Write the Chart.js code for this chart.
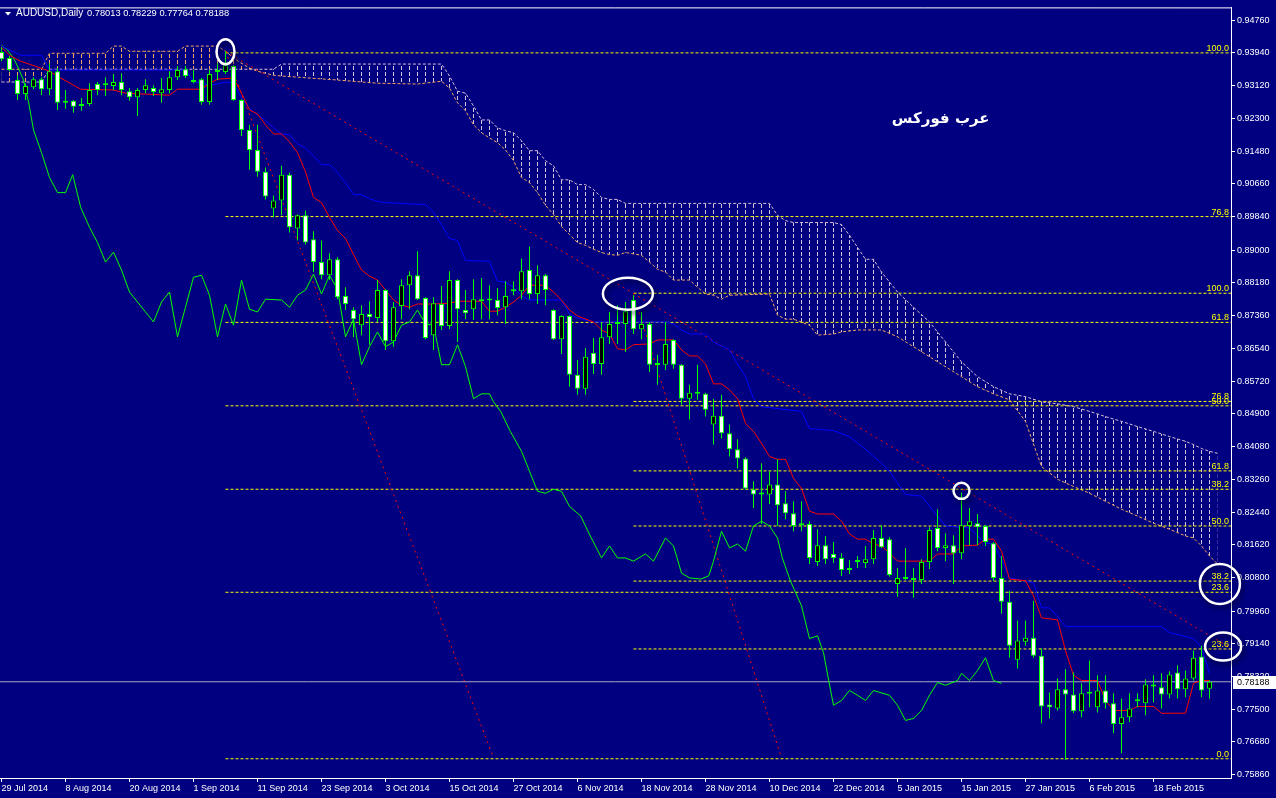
<!DOCTYPE html>
<html>
<head>
<meta charset="utf-8">
<title>AUDUSD Daily</title>
<script src="https://cdn.jsdelivr.net/npm/chart.js@4.4.1/dist/chart.umd.min.js"></script>
<style>
  html, body { margin: 0; padding: 0; background: #000080; overflow: hidden; }
  canvas { display: block; }
</style>
</head>
<body>
<canvas id="chart" width="1276" height="798"></canvas>
<script>
// x axis labels (bar index -> date)
const dateLabels = ['29 Jul 2014', '8 Aug 2014', '20 Aug 2014', '1 Sep 2014', '11 Sep 2014', '23 Sep 2014',
  '3 Oct 2014', '15 Oct 2014', '27 Oct 2014', '6 Nov 2014', '18 Nov 2014', '28 Nov 2014', '10 Dec 2014',
  '22 Dec 2014', '5 Jan 2015', '15 Jan 2015', '27 Jan 2015', '6 Feb 2015', '18 Feb 2015'];
const dateTicks = [0, 8, 16, 24, 32, 40, 48, 56, 64, 72, 80, 88, 96, 104, 112, 120, 128, 136, 144];

// price scale labels
const yTicks = [0.94760, 0.93940, 0.93120, 0.92300, 0.91480, 0.90660, 0.89840, 0.89000, 0.88180, 0.87360,
  0.86540, 0.85720, 0.84900, 0.84080, 0.83260, 0.82440, 0.81620, 0.80800, 0.79960, 0.79140, 0.78320,
  0.77500, 0.76680, 0.75860];

// daily candles
const opens = [0.9396,0.9381,0.9326,0.9291,0.9308,0.9328,0.9303,0.9348,0.9274,0.9274,
  0.9266,0.9266,0.9316,0.9318,0.9311,0.9321,0.9298,0.9283,0.9301,0.9306,
  0.9293,0.9301,0.9333,0.9353,0.9326,0.9328,0.9271,0.9346,0.9346,0.9361,
  0.9276,0.9201,0.9151,0.9096,0.9004,0.9024,0.9089,0.8954,0.8987,0.8927,
  0.8870,0.8837,0.8877,0.8785,0.8750,0.8712,0.8740,0.8730,0.8800,0.8672,
  0.8760,0.8812,0.8837,0.8780,0.8687,0.8765,0.8710,0.8825,0.8750,0.8752,
  0.8777,0.8776,0.8775,0.8757,0.8798,0.8797,0.8850,0.8790,0.8837,0.8750,
  0.8677,0.8735,0.8588,0.8553,0.8643,0.8615,0.8682,0.8716,0.8715,0.8775,
  0.8702,0.8715,0.8613,0.8613,0.8675,0.8613,0.8528,0.8541,0.8540,0.8463,
  0.8485,0.8441,0.8401,0.8378,0.8301,0.8289,0.8288,0.8313,0.8266,0.8241,
  0.8212,0.8214,0.8119,0.8161,0.8139,0.8129,0.8104,0.8120,0.8116,0.8126,
  0.8179,0.8176,0.8064,0.8077,0.8079,0.8074,0.8119,0.8204,0.8154,0.8161,
  0.8141,0.8209,0.8216,0.8209,0.8166,0.8079,0.8019,0.7874,0.7919,0.7929,
  0.7884,0.7762,0.7752,0.7800,0.7787,0.7745,0.7790,0.7755,0.7797,0.7765,
  0.7713,0.7730,0.7770,0.7765,0.7812,0.7805,0.7787,0.7842,0.7800,0.7827,
  0.7882,0.78013];
const highs = [0.9408,0.9386,0.9338,0.9318,0.9333,0.9333,0.9368,0.9356,0.9301,0.9276,
  0.9281,0.9318,0.9321,0.9333,0.9341,0.9343,0.9306,0.9306,0.9328,0.9313,
  0.9331,0.9348,0.9361,0.9361,0.9351,0.9331,0.9351,0.9368,0.9398,0.9363,
  0.9278,0.9214,0.9214,0.9107,0.9037,0.9111,0.9094,0.8989,0.8999,0.8947,
  0.8924,0.8892,0.8882,0.8807,0.8757,0.8762,0.8772,0.8825,0.8802,0.8770,
  0.8827,0.8847,0.8897,0.8782,0.8782,0.8810,0.8847,0.8827,0.8800,0.8827,
  0.8830,0.8812,0.8805,0.8822,0.8822,0.8879,0.8909,0.8862,0.8840,0.8752,
  0.8737,0.8737,0.8625,0.8655,0.8680,0.8720,0.8745,0.8762,0.8770,0.8787,
  0.8745,0.8720,0.8638,0.8720,0.8677,0.8615,0.8563,0.8613,0.8543,0.8528,
  0.8538,0.8463,0.8426,0.8381,0.8321,0.8366,0.8346,0.8376,0.8296,0.8271,
  0.8271,0.8221,0.8201,0.8184,0.8169,0.8141,0.8124,0.8134,0.8159,0.8199,
  0.8211,0.8181,0.8104,0.8154,0.8104,0.8126,0.8206,0.8251,0.8191,0.8186,
  0.8293,0.8254,0.8239,0.8211,0.8169,0.8134,0.8047,0.7972,0.7972,0.8022,
  0.7902,0.7792,0.7827,0.7850,0.7842,0.7815,0.7872,0.7835,0.7835,0.7790,
  0.7777,0.7790,0.7790,0.7825,0.7835,0.7840,0.7845,0.7860,0.7847,0.7897,
  0.7909,0.78229];
const lows = [0.9373,0.9348,0.9276,0.9276,0.9303,0.9288,0.9288,0.9251,0.9254,0.9244,
  0.9249,0.9261,0.9288,0.9286,0.9301,0.9288,0.9274,0.9236,0.9293,0.9286,
  0.9269,0.9293,0.9326,0.9331,0.9318,0.9264,0.9264,0.9326,0.9341,0.9274,
  0.9186,0.9101,0.9084,0.9027,0.8982,0.8987,0.8944,0.8924,0.8914,0.8845,
  0.8827,0.8825,0.8777,0.8750,0.8682,0.8687,0.8663,0.8720,0.8650,0.8658,
  0.8727,0.8752,0.8775,0.8677,0.8650,0.8700,0.8702,0.8670,0.8727,0.8725,
  0.8727,0.8727,0.8737,0.8715,0.8787,0.8777,0.8777,0.8765,0.8762,0.8675,
  0.8640,0.8558,0.8538,0.8538,0.8590,0.8588,0.8665,0.8665,0.8645,0.8690,
  0.8677,0.8595,0.8563,0.8600,0.8603,0.8513,0.8476,0.8525,0.8483,0.8413,
  0.8428,0.8383,0.8353,0.8301,0.8254,0.8214,0.8264,0.8209,0.8226,0.8196,
  0.8196,0.8114,0.8109,0.8114,0.8116,0.8084,0.8089,0.8104,0.8104,0.8114,
  0.8154,0.8082,0.8032,0.8074,0.8029,0.8064,0.8101,0.8146,0.8121,0.8064,
  0.8126,0.8161,0.8161,0.8159,0.8072,0.7989,0.7879,0.7852,0.7909,0.7879,
  0.7715,0.7727,0.7747,0.7623,0.7740,0.7730,0.7755,0.7742,0.7752,0.7690,
  0.7640,0.7718,0.7755,0.7735,0.7767,0.7752,0.7777,0.7777,0.7780,0.7822,
  0.7780,0.77764];
const closes = [0.9378,0.9351,0.9291,0.9311,0.9328,0.9303,0.9348,0.9269,0.9269,0.9259,
  0.9261,0.9301,0.9301,0.9313,0.9321,0.9301,0.9283,0.9301,0.9313,0.9296,
  0.9303,0.9333,0.9351,0.9336,0.9321,0.9271,0.9341,0.9348,0.9363,0.9276,
  0.9201,0.9151,0.9096,0.9034,0.9024,0.9089,0.8957,0.8987,0.8919,0.8870,
  0.8837,0.8877,0.8782,0.8765,0.8727,0.8740,0.8732,0.8800,0.8672,0.8757,
  0.8812,0.8837,0.8777,0.8680,0.8767,0.8710,0.8825,0.8752,0.8742,0.8777,
  0.8772,0.8774,0.8755,0.8785,0.8797,0.8847,0.8790,0.8837,0.8800,0.8677,
  0.8735,0.8588,0.8553,0.8633,0.8615,0.8682,0.8715,0.8715,0.8747,0.8702,
  0.8715,0.8613,0.8612,0.8665,0.8613,0.8528,0.8543,0.8540,0.8500,0.8485,
  0.8441,0.8401,0.8378,0.8303,0.8288,0.8288,0.8313,0.8261,0.8241,0.8209,
  0.8211,0.8129,0.8161,0.8126,0.8129,0.8099,0.8099,0.8119,0.8126,0.8179,
  0.8156,0.8086,0.8079,0.8076,0.8074,0.8119,0.8199,0.8154,0.8161,0.8141,
  0.8211,0.8221,0.8206,0.8169,0.8079,0.8019,0.7909,0.7922,0.7929,0.7884,
  0.7757,0.7755,0.7800,0.7787,0.7745,0.7790,0.7789,0.7797,0.7765,0.7713,
  0.7730,0.7752,0.7771,0.7812,0.7807,0.7787,0.7837,0.7800,0.7827,0.7879,
  0.7797,0.78188];

// Ichimoku lines as [bar, price]
const tenkan = [[0,0.9408],[1,0.9388],[2.4,0.9373],[4.9,0.9356],[6,0.9348],[7.4,0.9331],[9.9,0.9303],[14,0.9301],
  [15.5,0.9293],[21,0.9288],[22,0.9303],[25,0.9303],[26,0.9318],[27,0.9328],[29,0.9331],[30,0.9293],[31,0.9251],
  [32,0.9241],[33,0.9214],[34,0.9191],[35,0.9191],[36,0.9171],[37,0.9144],[38,0.9096],[39,0.9032],[40,0.9019],
  [41,0.8982],[42,0.8949],[43,0.8929],[44,0.8889],[45,0.8850],[46,0.8835],[47,0.8825],[48,0.8800],[49,0.8775],
  [50,0.8762],[51,0.8757],[52,0.8765],[54,0.8765],[56,0.8767],[57,0.8772],[60,0.8772],[61,0.8747],[62,0.8747],
  [63,0.8757],[64,0.8770],[65,0.8787],[66,0.8812],[68,0.8812],[69,0.8795],[70,0.8775],[71,0.8750],[72,0.8735],
  [74,0.8720],[75,0.8700],[76,0.8690],[77,0.8653],[78,0.8650],[79,0.8663],[81,0.8665],[82,0.8675],[84,0.8675],
  [85,0.8650],[86,0.8635],[87,0.8635],[88,0.8615],[89,0.8565],[90,0.8565],[91,0.8550],[92,0.8528],[93,0.8466],
  [94,0.8446],[95,0.8416],[96,0.8383],[97,0.8376],[98,0.8376],[99,0.8328],[100,0.8303],[101,0.8246],[102,0.8239],
  [104,0.8239],[105,0.8221],[106,0.8189],[107,0.8176],[108,0.8176],[109,0.8164],[110,0.8159],[111,0.8141],
  [112,0.8121],[116,0.8121],[117,0.8139],[119,0.8139],[120,0.8159],[122,0.8161],[123,0.8176],[124,0.8176],
  [125,0.8146],[126,0.8076],[128,0.8072],[129,0.8034],[130,0.7979],[132,0.7974],[133,0.7897],[134,0.7835],
  [135,0.7822],[137,0.7822],[138,0.7772],[139,0.7747],[141,0.7747],[142,0.7757],[144,0.7757],[145,0.7740],
  [148,0.7740],[149,0.7815],[150,0.7822],[151,0.7822]];
const kijun = [[0,0.9411],[2.4,0.9388],[5,0.9388],[6,0.9351],[23,0.9351],[24,0.9323],[26,0.9313],[27,0.9316],
  [28,0.9321],[29,0.9318],[30,0.9281],[31,0.9254],[32,0.9239],[33,0.9224],[34,0.9206],[35,0.9191],[36,0.9189],
  [37,0.9166],[38,0.9156],[39,0.9136],[40,0.9114],[41,0.9114],[42,0.9094],[43,0.9069],[44,0.9039],[45,0.9039],
  [46,0.9029],[47,0.9022],[48,0.9019],[53,0.9014],[54,0.8994],[55,0.8964],[56,0.8929],[57,0.8924],[58,0.8874],
  [61,0.8872],[62,0.8822],[63,0.8820],[64,0.8807],[65,0.8785],[66,0.8775],[70,0.8775],[71,0.8740],[72,0.8730],
  [74,0.8720],[83,0.8720],[84,0.8715],[85,0.8700],[86,0.8690],[88,0.8690],[89,0.8670],[91,0.8650],[92,0.8615],
  [93,0.8583],[94,0.8528],[95,0.8508],[100,0.8496],[101,0.8453],[104,0.8448],[106,0.8433],[108,0.8401],
  [110,0.8366],[111,0.8346],[112,0.8316],[113,0.8288],[115,0.8284],[116,0.8259],[117,0.8234],[118,0.8209],
  [121,0.8204],[122,0.8184],[123,0.8166],[124,0.8164],[125,0.8126],[126,0.8079],[129,0.8067],[130,0.8004],
  [131,0.8004],[132,0.7982],[133,0.7957],[145,0.7957],[146,0.7942],[149,0.7927],[150,0.7904],[151,0.7840]];
const chikou = [[0,0.9413],[0.75,0.9401],[1.5,0.9381],[2.1,0.9356],[2.75,0.9326],[3.4,0.9269],[4,0.9201],
  [5,0.9144],[6,0.9082],[7,0.9044],[8,0.9044],[8.9,0.9089],[9.9,0.9007],[11,0.8957],[12,0.8919],[13,0.8870],
  [14,0.8895],[15,0.8850],[16,0.8795],[17,0.8770],[18,0.8745],[19,0.8720],[20,0.8770],[21,0.8795],[22,0.8683],
  [23,0.8757],[24,0.8832],[25,0.8837],[26,0.8787],[27,0.8683],[28,0.8765],[29,0.8712],[30,0.8825],[31,0.8752],
  [32,0.8745],[33,0.8777],[35,0.8775],[36,0.8757],[37,0.8787],[38,0.8800],[39,0.8840],[40,0.8790],[41,0.8837],
  [42,0.8802],[43,0.8683],[44,0.8727],[45,0.8613],[46,0.8658],[47,0.8695],[48,0.8658],[49,0.8670],[50,0.8712],
  [51,0.8720],[52,0.8750],[53,0.8715],[54,0.8712],[54.5,0.8663],[55,0.8613],[56,0.8613],[57,0.8663],[58,0.8608],
  [59,0.8528],[60,0.8540],[61,0.8540],[61.5,0.8520],[62.4,0.8496],[63.6,0.8446],[65,0.8396],[66,0.8346],
  [67,0.8296],[68,0.8291],[69,0.8301],[70,0.8296],[71,0.8258],[72.4,0.8234],[73.6,0.8184],[75,0.8129],
  [76,0.8159],[77,0.8129],[78,0.8129],[79,0.8121],[80.5,0.8139],[81.5,0.8121],[83,0.8179],[84,0.8159],
  [85,0.8091],[86,0.8079],[87.4,0.8076],[88.4,0.8084],[89,0.8121],[90,0.8196],[91,0.8154],[92,0.8164],
  [93,0.8146],[94,0.8209],[95,0.8221],[96,0.8209],[97,0.8179],[97.6,0.8129],[98.6,0.8072],[100,0.8009],
  [101,0.7927],[102,0.7934],[102.75,0.7892],[103.4,0.7822],[104,0.7760],[105,0.7772],[106,0.7797],[107,0.7785],
  [108,0.7772],[109,0.7797],[111,0.7785],[112,0.7760],[113,0.7722],[114,0.7727],[115,0.7747],[116,0.7785],
  [117,0.7817],[118,0.7810],[119.5,0.7822],[120,0.7840],[121,0.7822],[122,0.7847],[123,0.7879],[124,0.7822],
  [125,0.7815]];
const spanA = [[0,0.9353],[5,0.9353],[6,0.9393],[13,0.9393],[14,0.9411],[15,0.9411],[16,0.9398],[22,0.9398],
  [23,0.9411],[27,0.9411],[28,0.9398],[29,0.9381],[30,0.9368],[31,0.9356],[32,0.9348],[34,0.9338],[35,0.9336],
  [42,0.9326],[47,0.9318],[52,0.9316],[55,0.9323],[56,0.9306],[57,0.9269],[58,0.9249],[59,0.9214],[60,0.9194],
  [61,0.9181],[62,0.9169],[63,0.9151],[64,0.9124],[65,0.9082],[66,0.9069],[67,0.9044],[68,0.9012],[69,0.8989],
  [70,0.8959],[71,0.8939],[72,0.8919],[73,0.8912],[74,0.8902],[75,0.8894],[76,0.8889],[77,0.8887],[78,0.8894],
  [80,0.8887],[81,0.8870],[82,0.8852],[83,0.8845],[84,0.8825],[86,0.8825],[87,0.8807],[88,0.8790],[89,0.8787],
  [90,0.8777],[91,0.8787],[96,0.8790],[97,0.8737],[98,0.8727],[99,0.8727],[101,0.8712],[102,0.8687],
  [104,0.8690],[105,0.8695],[107,0.8700],[110,0.8700],[112,0.8683],[114,0.8658],[116,0.8633],[118,0.8608],
  [120,0.8583],[122,0.8558],[124,0.8540],[126,0.8525],[128,0.8471],[130,0.8358],[132,0.8326],[134,0.8308],
  [136,0.8291],[138,0.8271],[140,0.8251],[142,0.8234],[144,0.8216],[146,0.8201],[148,0.8184],[149,0.8179],
  [150,0.8159],[151,0.8134],[152,0.8114]];
const spanB = [[0,0.9321],[5,0.9321],[6,0.9353],[34,0.9353],[35,0.9366],[55,0.9366],[56,0.9336],[57,0.9298],
  [58,0.9293],[59,0.9261],[60,0.9226],[61,0.9226],[62,0.9206],[63,0.9199],[64,0.9194],[65,0.9174],[66,0.9149],
  [67,0.9149],[68,0.9124],[69,0.9111],[70,0.9076],[71,0.9076],[72,0.9064],[73,0.9064],[74,0.9052],[75,0.9032],
  [76,0.9027],[77,0.9027],[78,0.9017],[96,0.9017],[97,0.8987],[98,0.8974],[99,0.8969],[104,0.8969],
  [105,0.8964],[106,0.8937],[107,0.8907],[108,0.8877],[109,0.8877],[110,0.8845],[112,0.8795],[114,0.8757],
  [116,0.8720],[118,0.8670],[120,0.8620],[122,0.8583],[124,0.8558],[126,0.8540],[128,0.8533],[130,0.8520],
  [132,0.8515],[134,0.8508],[136,0.8496],[138,0.8483],[140,0.8471],[142,0.8458],[144,0.8446],[146,0.8433],
  [148,0.8421],[149,0.8413],[150,0.8403],[151,0.8396],[152,0.8391]];
// bar where span A drops below span B (cloud turns bearish)
const kumoTwist = 31.5;

// drawn objects
const trendLines = [
  [[28, 0.9398], [154, 0.7899]],
  [[28, 0.9398], [61.5, 0.7628]],
  [[79, 0.8787], [97.5, 0.7628]]
];
const fibLabels = ['100.0', '76.8', '61.8', '50.0', '38.2', '23.6', '0.0'];
const fib1Start = 28;
const fib1Levels = [0.9394, 0.8984, 0.8719, 0.8510, 0.8301, 0.8043, 0.7626];
const fib2Start = 79;
const fib2Levels = [0.8792, 0.8521, 0.8347, 0.8209, 0.8071, 0.7901];
const marks = [[28, 0.9397], [78.3, 0.8791], [120, 0.8297], [152.3, 0.8064], [152.7, 0.7907]];
const lastPrice = closes[closes.length - 1];

const FONT = "'Liberation Sans', Arial, sans-serif";
const X_MAX = 153.6875;

function hatch(color) {
  const c = document.createElement('canvas');
  c.width = 8; c.height = 6;
  const g = c.getContext('2d');
  g.fillStyle = color;
  g.fillRect(1, 0, 1, 4);
  return g.createPattern(c, 'repeat');
}

const bodies = opens.map((o, i) => ({ x: i, y: [Math.min(o, closes[i]), Math.max(o, closes[i])] }));
const bodyFill = opens.map((o, i) => closes[i] > o ? '#000000' : '#ffffff');
const wicks = highs.map((h, i) => ({ x: i, y: [lows[i], h] }));

function lineSet(data, color, order, extra) {
  return Object.assign({
    type: 'line', data: data, borderColor: color, borderWidth: 1,
    pointRadius: 0, fill: false, order: order
  }, extra || {});
}

const datasets = [
  lineSet(spanB, '#d8bfd8', 9, { borderDash: [3, 2] }),
  lineSet(spanA, '#f4a460', 8, { borderDash: [3, 2] }),
  // kumo hatching: bullish part (A over B) sandy, bearish part thistle
  lineSet(spanA.filter(p => p[0] <= kumoTwist + 0.5), 'transparent', 10,
    { borderWidth: 0, fill: { target: 0 }, backgroundColor: hatch('#f4a460') }),
  lineSet(spanA.filter(p => p[0] >= kumoTwist - 0.5), 'transparent', 10,
    { borderWidth: 0, fill: { target: 0 }, backgroundColor: hatch('#d8bfd8') })
];
fib1Levels.forEach(v => datasets.push(lineSet([[fib1Start, v], [155, v]], '#ffff00', 7, { borderDash: [3, 2] })));
fib2Levels.forEach(v => datasets.push(lineSet([[fib2Start, v], [155, v]], '#ffff00', 7, { borderDash: [3, 2] })));
trendLines.forEach(t => datasets.push(lineSet(t, '#ff0000', 6, { borderDash: [2, 4] })));
datasets.push(lineSet([[-1, lastPrice], [155, lastPrice]], '#a8a8c0', 5));
datasets.push(lineSet(chikou, '#00ff00', 4));
datasets.push(lineSet(kijun, '#0000ff', 3));
datasets.push(lineSet(tenkan, '#ff0000', 2));
datasets.push({
  type: 'bar', data: wicks, backgroundColor: '#00ff00', borderWidth: 0,
  barThickness: 1, grouped: false, inflateAmount: 0, order: 1
});
datasets.push({
  type: 'bar', data: bodies, backgroundColor: bodyFill, borderColor: '#00ff00', borderWidth: 1,
  borderSkipped: false, barThickness: 5, minBarLength: 2, grouped: false, inflateAmount: 0, order: 0
});

const overlay = {
  id: 'overlay',
  beforeDraw(chart) {
    const ctx = chart.ctx;
    ctx.save();
    ctx.fillStyle = '#000080';
    ctx.fillRect(0, 0, chart.width, chart.height);
    ctx.restore();
  },
  afterDraw(chart) {
    const { ctx, chartArea: a, scales: { x, y } } = chart;
    ctx.save();

    // top frame line
    ctx.strokeStyle = '#ffffff';
    ctx.lineWidth = 1;
    ctx.beginPath();
    ctx.moveTo(0, a.top + 0.5);
    ctx.lineTo(a.right + 0.5, a.top + 0.5);
    ctx.stroke();

    // fibo level labels
    ctx.font = '9px ' + FONT;
    ctx.fillStyle = '#ffff00';
    ctx.textAlign = 'right';
    ctx.textBaseline = 'alphabetic';
    [fib1Levels, fib2Levels].forEach(levels => {
      levels.forEach((v, k) => ctx.fillText(fibLabels[k], a.right - 2, y.getPixelForValue(v) - 2));
    });

    // rings
    const ringSize = [[9, 12.5], [25, 16], [8, 8], [20, 20], [18, 14]];
    ctx.strokeStyle = '#ffffff';
    ctx.lineWidth = 2.5;
    ctx.shadowColor = 'rgba(0,0,40,0.8)';
    ctx.shadowBlur = 5;
    ctx.shadowOffsetX = 2;
    ctx.shadowOffsetY = 3;
    marks.forEach(([i, v], k) => {
      ctx.beginPath();
      ctx.ellipse(x.getPixelForValue(i), y.getPixelForValue(v), ringSize[k][0], ringSize[k][1], 0, 0, Math.PI * 2);
      ctx.stroke();
    });
    ctx.shadowColor = 'transparent';

    // watermark text
    ctx.fillStyle = '#ffffff';
    ctx.font = "bold 15px 'DejaVu Sans'";
    ctx.textAlign = 'center';
    ctx.textBaseline = 'middle';
    ctx.fillText('عرب فوركس', x.getPixelForValue(117.4), y.getPixelForValue(0.9229));

    // symbol header
    ctx.beginPath();
    ctx.moveTo(5, 12); ctx.lineTo(11, 12); ctx.lineTo(8, 15.5);
    ctx.closePath();
    ctx.fill();
    ctx.textAlign = 'left';
    ctx.textBaseline = 'alphabetic';
    ctx.font = '10px ' + FONT;
    ctx.fillText('AUDUSD,Daily', 16, 16);
    const n = closes.length - 1;
    ctx.font = '9.3px ' + FONT;
    ctx.fillText([opens[n], highs[n], lows[n], closes[n]].map(v => v.toFixed(5)).join(' '), 87, 16);

    // current price marker
    const py = Math.round(y.getPixelForValue(lastPrice));
    ctx.fillStyle = '#ffffff';
    ctx.fillRect(a.right + 2, py - 6, 43, 13);
    ctx.fillStyle = '#000000';
    ctx.font = '9px ' + FONT;
    ctx.textBaseline = 'middle';
    ctx.fillText(lastPrice.toFixed(5), a.right + 6, py + 0.5);
    ctx.restore();
  }
};

new Chart(document.getElementById('chart'), {
  type: 'line',
  data: { datasets: datasets },
  options: {
    responsive: false,
    animation: false,
    events: [],
    layout: { padding: { top: 4, left: 0, right: 0, bottom: 0 } },
    plugins: { legend: { display: false }, tooltip: { enabled: false } },
    elements: { point: { radius: 0 }, line: { tension: 0, borderWidth: 1 } },
    scales: {
      x: {
        type: 'linear', min: -0.1875, max: X_MAX, offset: false,
        afterBuildTicks: axis => { axis.ticks = dateTicks.map(v => ({ value: v })); },
        afterFit: axis => { axis.height = 20; },
        ticks: {
          color: '#ffffff', font: { family: FONT, size: 9 }, align: 'start', padding: 1,
          maxRotation: 0, autoSkip: false, callback: (v, k) => dateLabels[k]
        },
        grid: { drawOnChartArea: false, color: '#ffffff', tickLength: 4, offset: false },
        border: { color: '#ffffff' }
      },
      y: {
        position: 'right', min: 0.75778, max: 0.95079,
        afterBuildTicks: axis => { axis.ticks = yTicks.map(v => ({ value: v })); },
        afterFit: axis => { axis.width = 45; },
        ticks: {
          color: '#ffffff', font: { family: FONT, size: 9 }, padding: 2, autoSkip: false,
          callback: v => v.toFixed(5)
        },
        grid: { drawOnChartArea: false, color: '#ffffff', tickLength: 4 },
        border: { color: '#ffffff' }
      }
    }
  },
  plugins: [overlay]
});
</script>
</body>
</html>
